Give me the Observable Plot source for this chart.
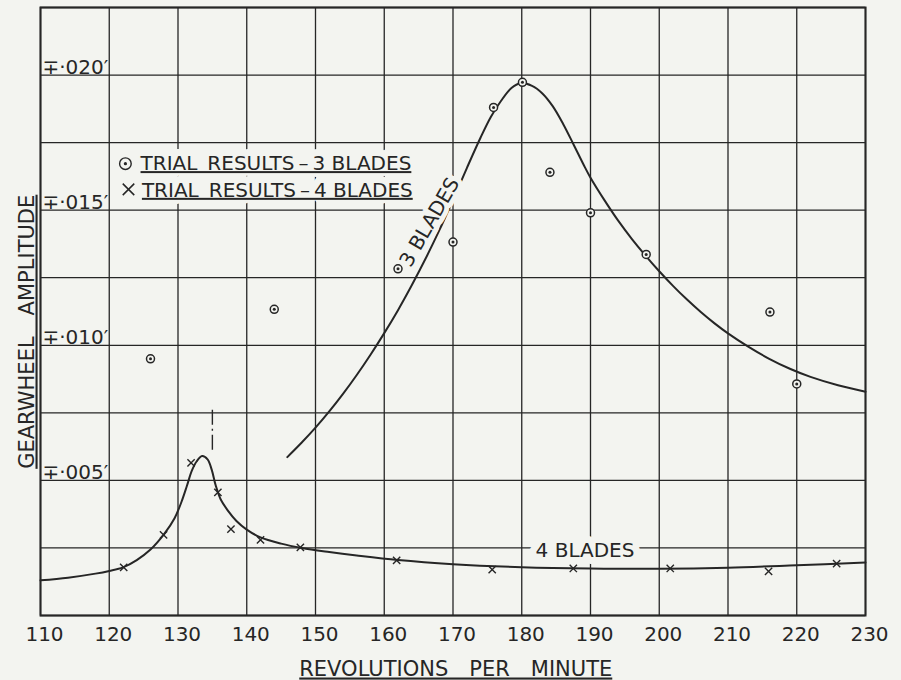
<!DOCTYPE html>
<html><head><meta charset="utf-8">
<script src="https://cdn.jsdelivr.net/npm/d3@7"></script>
<script src="https://cdn.jsdelivr.net/npm/@observablehq/plot@0.6"></script>
<style>
html,body{margin:0;padding:0;background:#f3f4f0;}
#chart svg{display:block;}
</style>
</head><body><div id="chart"></div>
<script>
// ---- axes / ticks ----
const xTicks = [110,120,130,140,150,160,170,180,190,200,210,220,230];
const xTickLabels = ["110","120","130","140","150","160","170","180","190","200","210","220","230"];
const yGrid = [0,0.0025,0.005,0.0075,0.010,0.0125,0.015,0.0175,0.020,0.0225];
const yTickValues = [0.005,0.010,0.015,0.020];
const yTickLabels = ["∓·005′","∓·010′","∓·015′","∓·020′"];

// ---- faired curves ----
const curve3Rpm = [145.9,148,150,152,154,156,158,160,162,164,166,168,170,172,174,175.5,177,178.5,179.8,181.5,183,184.5,186,187.5,189,190,192,194,196,198,200,202,204,206,208,210,213,216,219,222,226,230];
const curve3Amp = [0.00586,0.0064,0.00695,0.00755,0.0082,0.0089,0.00965,0.01045,0.0113,0.01222,0.0132,0.01425,0.01538,0.01655,0.01768,0.01845,0.01905,0.01952,0.0197,0.0196,0.01932,0.01885,0.0182,0.01745,0.01668,0.0162,0.01538,0.01462,0.01394,0.01332,0.01274,0.0122,0.0117,0.01124,0.01082,0.01044,0.00994,0.0095,0.00913,0.00883,0.00852,0.00828];

const curve4Rpm = [110,114,118,120,122,124,126,128,129.5,130.5,131.3,132,132.7,133.5,134.3,134.9,135.5,136.2,137.2,138.5,140,142,145,148,152,156,162,170,180,190,200,210,220,230];
const curve4Amp = [0.0013,0.0014,0.00155,0.00165,0.00178,0.00205,0.00244,0.00302,0.0036,0.0042,0.0048,0.00535,0.0057,0.0059,0.00578,0.0054,0.0048,0.0043,0.0039,0.0035,0.00318,0.00289,0.00266,0.0025,0.00235,0.00222,0.00205,0.0019,0.00179,0.00174,0.00173,0.00177,0.00186,0.00196];

// ---- trial results ----
const trial3Rpm = [126.0,144.0,162.0,170.0,175.9,180.1,184.1,190.0,198.1,216.1,220.0];
const trial3Amp = [0.0095,0.01133,0.01283,0.01382,0.0188,0.01973,0.0164,0.0149,0.01336,0.01123,0.00857];
const trial4Rpm = [122.1,127.9,131.9,135.8,137.7,142.0,147.8,161.8,175.7,187.5,201.6,215.9,225.8];
const trial4Amp = [0.00178,0.00298,0.00565,0.00456,0.0032,0.0028,0.00252,0.00204,0.0017,0.00174,0.00174,0.00163,0.00192];

// ---- texts ----
const xLabel = "REVOLUTIONS\u2003PER\u2003MINUTE";
const yLabel = "GEARWHEEL\u2003AMPLITUDE";
const legendTexts = ["TRIAL\u2002RESULTS\u2009–\u20093 BLADES", "TRIAL\u2002RESULTS\u2009–\u20094 BLADES"];
const label3 = "3 BLADES";
const label4 = "4 BLADES";
const markerRpm = [135.0];

const BG = "#f3f4f0", INK = "#262626", FONT = "DejaVu Sans, sans-serif";
const pts = (xs, ys) => xs.map((x, i) => ({x, y: ys[i]}));
const legendX = [124.55, 124.75], legendY = [0.01672, 0.01573];

const plot = Plot.plot({
  width: 901, height: 680,
  marginLeft: 40, marginRight: 36, marginTop: 7, marginBottom: 65,
  x: {domain: [110, 230], axis: null},
  y: {domain: [0, 0.0225], axis: null},
  style: {fontFamily: FONT, background: BG, color: INK},
  marks: [
    Plot.ruleX(xTicks, {stroke: INK, strokeWidth: 1.3}),
    Plot.ruleY(yGrid, {stroke: INK, strokeWidth: 1.3}),
    Plot.frame({stroke: INK, strokeWidth: 2}),
    // y tick labels inside the frame
    Plot.text(yTickValues, {y: d => d, text: (d, i) => yTickLabels[i], frameAnchor: "left",
      textAnchor: "start", lineAnchor: "bottom", dx: 2, dy: -1, fontSize: 20, fill: INK, fontFamily: FONT}),
    // x tick labels
    Plot.text(xTicks, {x: d => d, text: (d, i) => xTickLabels[i], frameAnchor: "bottom",
      textAnchor: "middle", lineAnchor: "top", dy: 11, dx: 4, fontSize: 20, fill: INK, fontFamily: FONT}),
    // axis titles
    Plot.text([xLabel], {x: [170.4], text: d => d, frameAnchor: "bottom", textAnchor: "middle", lineAnchor: "bottom",
      dy: 60, fontSize: 21, fill: INK, fontFamily: FONT}),
    Plot.text([yLabel], {y: [0.0105], text: d => d, frameAnchor: "left", textAnchor: "middle", lineAnchor: "bottom",
      rotate: -90, dx: -7, fontSize: 21, fill: INK, fontFamily: FONT}),
    // resonance mark
    Plot.ruleX(markerRpm, {y1: 0.0076, y2: 0.0060, stroke: INK, strokeWidth: 1.4, strokeDasharray: "15,4,2,4"}),
    // curves
    Plot.line(pts(curve3Rpm, curve3Amp), {x: "x", y: "y", curve: "catmull-rom", stroke: INK, strokeWidth: 2}),
    Plot.line(pts(curve4Rpm, curve4Amp), {x: "x", y: "y", curve: "catmull-rom", stroke: INK, strokeWidth: 2}),
    // curve labels with paper-coloured halo breaking the grid
    Plot.text([label3], {x: [166.6], y: [0.01455], text: d => d, rotate: -60, fontSize: 20, textAnchor: "middle",
      fill: INK, stroke: BG, strokeWidth: 10, paintOrder: "stroke", lineAnchor: "middle", fontFamily: FONT}),
    Plot.text([label4], {x: [189.2], y: [0.00242], text: d => d, fontSize: 20, textAnchor: "middle",
      fill: INK, stroke: BG, strokeWidth: 14, paintOrder: "stroke", lineAnchor: "middle", fontFamily: FONT}),
    // legend: halo layer, then underlined text
    Plot.text(legendTexts, {x: legendX, y: legendY, text: d => d, textAnchor: "start",
      lineAnchor: "middle", fontSize: 20, fill: "none", stroke: BG, strokeWidth: 14, fontFamily: FONT}),
    Plot.text(legendTexts, {x: legendX, y: legendY, text: d => d, textAnchor: "start",
      lineAnchor: "middle", fontSize: 20, fill: INK, fontFamily: FONT}),
    Plot.dot([0], {x: [122.35], y: [0.01672], r: 5.8, stroke: INK, strokeWidth: 1.4, fill: BG}),
    Plot.dot([0], {x: [122.35], y: [0.01672], r: 1.6, fill: INK}),
    Plot.dot([0], {x: [122.8], y: [0.01577], r: 5.3, symbol: "times", stroke: INK, strokeWidth: 1.5}),
    // trial points
    Plot.dot(pts(trial3Rpm, trial3Amp), {x: "x", y: "y", r: 4, stroke: INK, strokeWidth: 1.5, fill: BG}),
    Plot.dot(pts(trial3Rpm, trial3Amp), {x: "x", y: "y", r: 1.5, fill: INK}),
    Plot.dot(pts(trial4Rpm, trial4Amp), {x: "x", y: "y", r: 3.4, symbol: "times", stroke: INK, strokeWidth: 1.4})
  ]
});

const underlined = new Set([xLabel, yLabel, ...legendTexts]);
plot.querySelectorAll("text").forEach(t => {
  const stroked = t.getAttribute("stroke") || (t.parentNode && t.parentNode.getAttribute && t.parentNode.getAttribute("stroke"));
  if (underlined.has(t.textContent) && !stroked) {
    t.setAttribute("text-decoration", "underline");
    t.style.textDecorationThickness = "1.6px";
  }
});
plot.querySelectorAll("g[stroke] text, text[stroke]").forEach(t => {
  t.setAttribute("paint-order", "stroke"); t.setAttribute("stroke-linejoin", "round");
});
document.getElementById("chart").appendChild(plot);
</script>
</body></html>
